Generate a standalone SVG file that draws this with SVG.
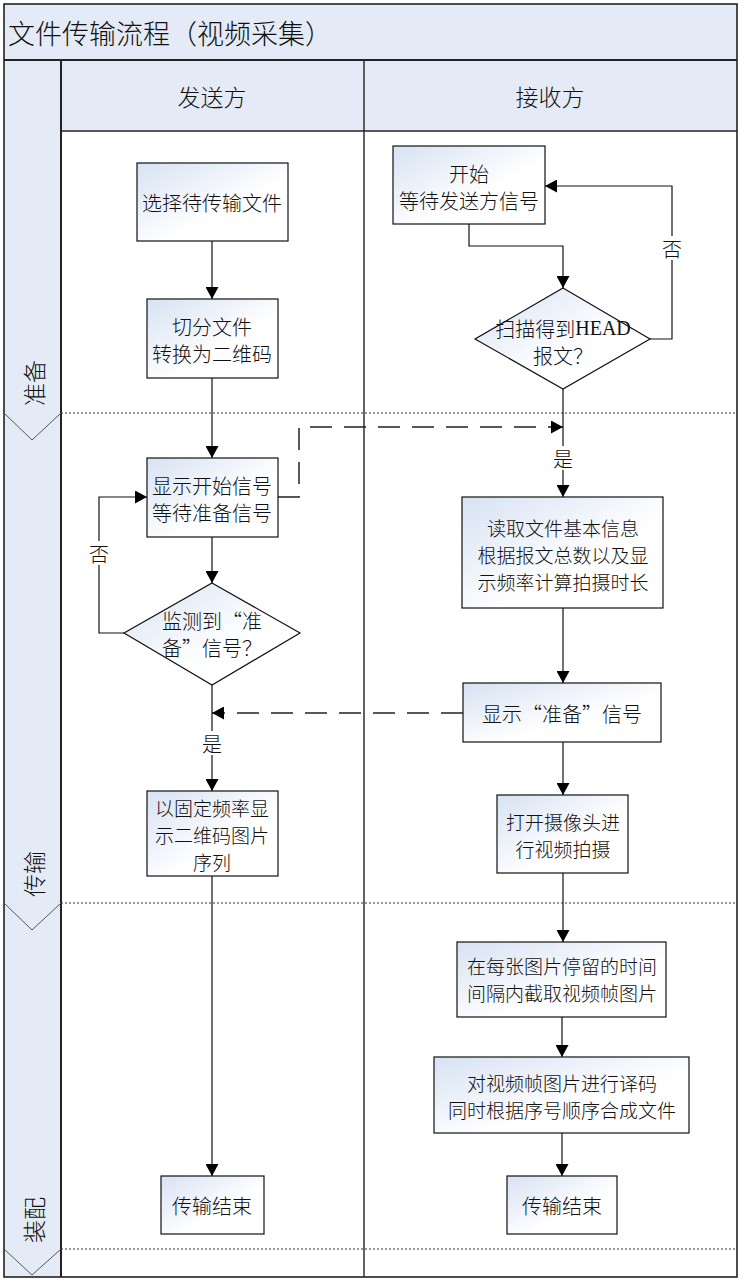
<svg xmlns="http://www.w3.org/2000/svg" width="749" height="1281" viewBox="0 0 749 1281">
<defs>
<linearGradient id="g" x1="0" y1="0" x2="1" y2="1">
<stop offset="0" stop-color="#D7E2F3"/>
<stop offset="0.6" stop-color="#FFFFFF"/>
<stop offset="1" stop-color="#FFFFFF"/>
</linearGradient>
<marker id="ah" markerUnits="userSpaceOnUse" markerWidth="13" markerHeight="13" refX="12" refY="6.5" orient="auto">
<path d="M0,0 L12,6.5 L0,13 Z" fill="#000"/>
</marker>
</defs>
<style>
.band{fill:#E4EBF6;stroke:none}
.frame{fill:none;stroke:#222;stroke-width:1.6}
.sep{stroke:#333;stroke-width:1;stroke-dasharray:2 2;fill:none}
.chev{stroke:#555;stroke-width:1;fill:none}
.node{fill:url(#g);stroke:#111;stroke-width:1.2}
.t{font-family:"Noto Sans CJK SC","Liberation Serif",sans-serif;font-size:20px;font-weight:300;fill:#111;text-anchor:middle;dominant-baseline:central}
.s{font-size:19px}
.lat{font-family:"Liberation Serif",serif;font-weight:400}
.hdr{font-family:"Noto Sans CJK SC",sans-serif;font-size:23px;font-weight:300;fill:#111;text-anchor:middle;dominant-baseline:central}
.ttl{font-family:"Noto Sans CJK SC",sans-serif;font-size:27px;font-weight:300;fill:#111;dominant-baseline:central}
.c{fill:none;stroke:#111;stroke-width:1.2}
.cd{fill:none;stroke:#222;stroke-width:1.5;stroke-dasharray:22 12}
.lbg{fill:#fff;stroke:none}
</style>

<g id="pool">
<rect class="band" x="4" y="4" width="733" height="56"/>
<rect class="band" x="61" y="60" width="676" height="71"/>
<rect class="band" x="4" y="60" width="57" height="1217"/>
<rect x="61" y="131" width="676" height="1146" fill="#fff"/>
<rect class="frame" x="4" y="4" width="733" height="1273"/>
<line x1="4" y1="60" x2="737" y2="60" stroke="#222" stroke-width="2"/>
<line x1="61" y1="131" x2="737" y2="131" stroke="#222" stroke-width="1.4"/>
<line x1="61" y1="60" x2="61" y2="1277" stroke="#222" stroke-width="2"/>
<line x1="364" y1="60" x2="364" y2="1277" stroke="#222" stroke-width="1.4"/>
<text class="ttl" x="8" y="32">文件传输流程（视频采集）</text>
<text class="hdr" x="212" y="96">发送方</text>
<text class="hdr" x="550" y="96">接收方</text>
<line class="sep" x1="61" y1="413" x2="737" y2="413"/>
<line class="sep" x1="61" y1="903" x2="737" y2="903"/>
<line class="sep" x1="61" y1="1249" x2="737" y2="1249"/>
<polyline class="chev" points="4,413 32,440 61,413"/>
<polyline class="chev" points="4,903 32,930 61,903"/>
<polyline class="chev" points="4,1249 32,1275 61,1249"/>
<text class="hdr" transform="translate(33,383) rotate(-90)">准备</text>
<text class="hdr" transform="translate(33,874) rotate(-90)">传输</text>
<text class="hdr" transform="translate(33,1220) rotate(-90)">装配</text>
</g>

<g id="connectors">
<line class="c" x1="212" y1="241" x2="212" y2="299" marker-end="url(#ah)"/>
<line class="c" x1="212" y1="378" x2="212" y2="458" marker-end="url(#ah)"/>
<line class="c" x1="212" y1="537" x2="212" y2="583" marker-end="url(#ah)"/>
<polyline class="c" points="124,633 99,633 99,497 147,497" marker-end="url(#ah)"/>
<line class="c" x1="212" y1="685" x2="212" y2="791" marker-end="url(#ah)"/>
<line class="c" x1="212" y1="876" x2="212" y2="1176" marker-end="url(#ah)"/>
<polyline class="c" points="469,224 469,246 563,246 563,288" marker-end="url(#ah)"/>
<polyline class="c" points="650,339 672,339 672,186 545,186" marker-end="url(#ah)"/>
<line class="c" x1="563" y1="389" x2="563" y2="497" marker-end="url(#ah)"/>
<polyline class="cd" points="278,497 299,497 299,427 563,427" marker-end="url(#ah)"/>
<line class="cd" x1="463" y1="713" x2="212" y2="713" marker-end="url(#ah)"/>
<line class="c" x1="563" y1="608" x2="563" y2="683" marker-end="url(#ah)"/>
<line class="c" x1="563" y1="742" x2="563" y2="795" marker-end="url(#ah)"/>
<line class="c" x1="563" y1="873" x2="563" y2="942" marker-end="url(#ah)"/>
<line class="c" x1="562" y1="1017" x2="562" y2="1057" marker-end="url(#ah)"/>
<line class="c" x1="562" y1="1133" x2="562" y2="1176" marker-end="url(#ah)"/>
<rect class="lbg" x="88" y="541" width="22" height="24"/>
<text class="t" x="99" y="553">否</text>
<rect class="lbg" x="661" y="236" width="22" height="24"/>
<text class="t" x="672" y="248">否</text>
<rect class="lbg" x="201" y="731" width="22" height="24"/>
<text class="t" x="212" y="743">是</text>
<rect class="lbg" x="552" y="446" width="22" height="24"/>
<text class="t" x="563" y="458">是</text>
</g>

<g id="n1"><rect class="node" x="137" y="163" width="151" height="78"/><text class="t" x="212" y="202">选择待传输文件</text></g>
<g id="n2"><rect class="node" x="147" y="299" width="131" height="79"/><text class="t" x="212" y="326">切分文件<tspan x="212" dy="27">转换为二维码</tspan></text></g>
<g id="n3"><rect class="node" x="147" y="458" width="131" height="79"/><text class="t" x="212" y="485">显示开始信号<tspan x="212" dy="27">等待准备信号</tspan></text></g>
<g id="n4"><polygon class="node" points="212,583 300,633 212,685 124,633"/><text class="t" x="212" y="620">监测到“准<tspan x="212" dy="27">备”信号？</tspan></text></g>
<g id="n5"><rect class="node" x="147" y="791" width="131" height="85"/><text class="t s" x="212" y="807">以固定频率显<tspan x="212" dy="27">示二维码图片</tspan><tspan x="212" dy="27">序列</tspan></text></g>
<g id="n6"><rect class="node" x="161" y="1176" width="103" height="58"/><text class="t" x="212" y="1205">传输结束</text></g>

<g id="r1"><rect class="node" x="393" y="146" width="152" height="78"/><text class="t" x="469" y="173">开始<tspan x="469" dy="27">等待发送方信号</tspan></text></g>
<g id="r2"><polygon class="node" points="563,288 650,339 563,389 475,339"/><text class="t" x="563" y="328">扫描得到<tspan class="lat">HEAD</tspan><tspan x="563" dy="27">报文？</tspan></text></g>
<g id="r3"><rect class="node" x="462" y="497" width="201" height="111"/><text class="t s" x="563" y="527">读取文件基本信息<tspan x="563" dy="27">根据报文总数以及显</tspan><tspan x="563" dy="27">示频率计算拍摄时长</tspan></text></g>
<g id="r4"><rect class="node" x="463" y="683" width="198" height="59"/><text class="t" x="562" y="713">显示“准备”信号</text></g>
<g id="r5"><rect class="node" x="497" y="795" width="131" height="78"/><text class="t s" x="563" y="821">打开摄像头进<tspan x="563" dy="27">行视频拍摄</tspan></text></g>
<g id="r6"><rect class="node" x="457" y="942" width="209" height="75"/><text class="t s" x="562" y="965">在每张图片停留的时间<tspan x="562" dy="27">间隔内截取视频帧图片</tspan></text></g>
<g id="r7"><rect class="node" x="434" y="1057" width="255" height="76"/><text class="t s" x="562" y="1082">对视频帧图片进行译码<tspan x="562" dy="27">同时根据序号顺序合成文件</tspan></text></g>
<g id="r8"><rect class="node" x="507" y="1176" width="110" height="58"/><text class="t" x="562" y="1205">传输结束</text></g>
</svg>
